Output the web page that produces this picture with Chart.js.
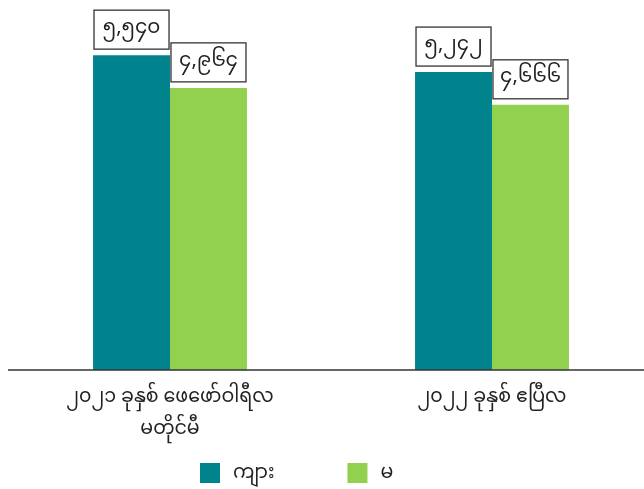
<!DOCTYPE html>
<html>
<head>
<meta charset="utf-8">
<script src="https://cdn.jsdelivr.net/npm/chart.js@4/dist/chart.umd.min.js"></script>
<style>
  html, body { margin: 0; padding: 0; background: #fff; overflow: hidden; }
  #wrap { width: 662px; height: 489px; }
</style>
</head>
<body>
<div id="wrap"><canvas id="genderChart"></canvas></div>
<script>
const categories = [
    ['၂၀၂၁ ခုနှစ် ဖေဖော်ဝါရီလ', 'မတိုင်မီ'],
    ['၂၀၂၂ ခုနှစ် ဧပြီလ']
];
const seriesNames = ['ကျား', 'မ'];
const maleValues = [5540, 5242];
const femaleValues = [4964, 4666];
const seriesColors = ['#00838C', '#92D050'];

const FONT = "'Noto Sans Myanmar', 'Myanmar Text', 'Padauk', 'Noto Sans', sans-serif";

// western digits -> myanmar digits
function myNum(v) {
    return v.toLocaleString('en-US').replace(/[0-9]/g, function (d) {
        return String.fromCharCode(0x1040 + Number(d));
    });
}

// boxed value labels above each bar
const boxLabels = {
    id: 'boxLabels',
    afterDatasetsDraw(chart) {
        const ctx = chart.ctx;
        ctx.save();
        ctx.font = '20px ' + FONT;
        ctx.textAlign = 'center';
        ctx.textBaseline = 'middle';
        chart.data.datasets.forEach(function (ds, i) {
            chart.getDatasetMeta(i).data.forEach(function (bar, j) {
                const w = 75, h = 39;
                const x = bar.x - w / 2;
                const y = bar.y - 6 - h;
                ctx.fillStyle = '#fff';
                ctx.fillRect(x, y, w, h);
                ctx.strokeStyle = '#333';
                ctx.lineWidth = 1.3;
                ctx.strokeRect(x, y, w, h);
                ctx.fillStyle = '#222';
                ctx.fillText(myNum(ds.data[j]), bar.x, y + h / 2 + 1);
            });
        });
        ctx.restore();
    }
};

// baseline across the full width + legend at the bottom
const extras = {
    id: 'extras',
    afterDraw(chart) {
        const ctx = chart.ctx;
        const y = chart.scales.y.getPixelForValue(0);
        ctx.save();
        ctx.strokeStyle = '#333';
        ctx.lineWidth = 1.5;
        ctx.beginPath();
        ctx.moveTo(8, y);
        ctx.lineTo(chart.width, y);
        ctx.stroke();

        // legend
        ctx.font = '19px ' + FONT;
        ctx.textBaseline = 'middle';
        ctx.textAlign = 'left';
        let lx = 200;
        const ly = 473;
        chart.data.datasets.forEach(function (ds) {
            ctx.fillStyle = ds.backgroundColor;
            ctx.fillRect(lx, ly - 10, 20, 20);
            ctx.fillStyle = '#222';
            ctx.fillText(ds.label, lx + 33, ly + 3);
            lx += 33 + ctx.measureText(ds.label).width + 73;
        });
        ctx.restore();
    }
};

const ctx = document.getElementById('genderChart').getContext('2d');
const genderChart = new Chart(ctx, {
    type: 'bar',
    data: {
        labels: categories,
        datasets: [{
            label: seriesNames[0],
            data: maleValues,
            backgroundColor: seriesColors[0],
            borderWidth: 0
        }, {
            label: seriesNames[1],
            data: femaleValues,
            backgroundColor: seriesColors[1],
            borderWidth: 0
        }]
    },
    options: {
        responsive: true,
        maintainAspectRatio: false,
        animation: false,
        layout: { padding: { left: 9, right: 9, top: 29, bottom: 0 } },
        datasets: {
            bar: { categoryPercentage: 0.478, barPercentage: 1 }
        },
        plugins: {
            legend: { display: false },
            tooltip: { enabled: false }
        },
        scales: {
            y: {
                display: false,
                min: 0,
                max: 6000
            },
            x: {
                grid: { display: false },
                border: { display: false },
                afterFit: function (scale) { scale.height = 119; },
                ticks: {
                    color: '#222',
                    padding: 6,
                    font: { family: FONT, size: 19, lineHeight: 1.68 }
                }
            }
        }
    },
    plugins: [boxLabels, extras]
});
</script>
</body>
</html>
